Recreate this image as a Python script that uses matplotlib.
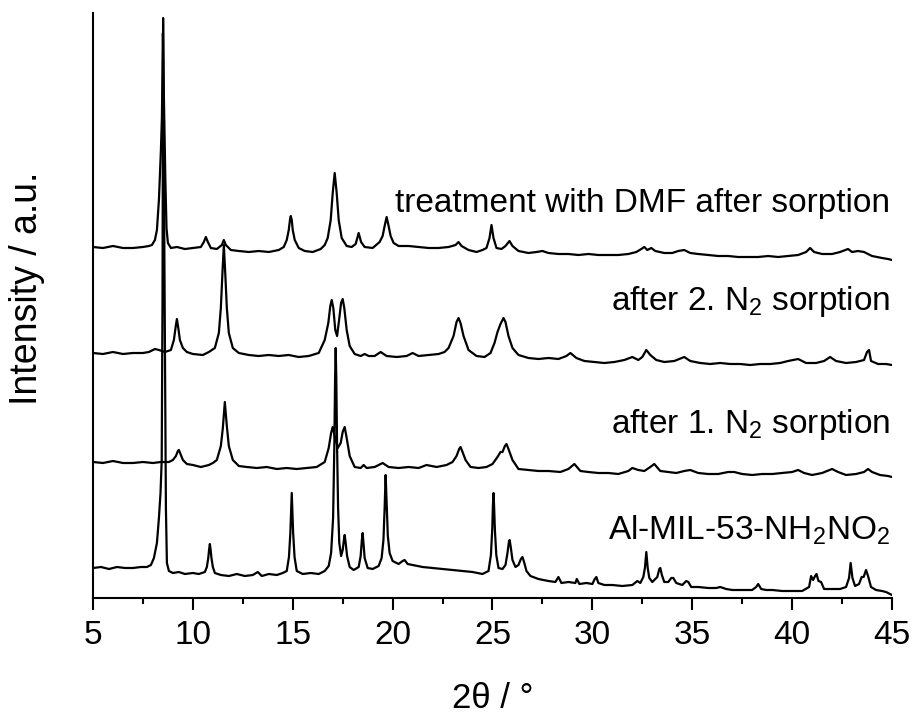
import matplotlib
matplotlib.use('Agg')
import matplotlib.pyplot as plt
from matplotlib.ticker import MultipleLocator

plt.rcParams['font.family'] = ['Liberation Sans', 'DejaVu Sans']
plt.rcParams['mathtext.fontset'] = 'custom'
plt.rcParams['mathtext.rm'] = 'Liberation Sans'
plt.rcParams['mathtext.it'] = 'Liberation Sans'

# stacked powder patterns, intensity in a.u. (offsets already included)

# Al-MIL-53-NH2NO2 (as synthesised)
tt_asyn = [5.0, 5.4, 5.8, 6.2, 6.6, 7.0, 7.4, 7.7, 7.9, 8.05, 8.2, 8.3, 8.38, 8.44, 8.48, 8.51,
           8.55, 8.6, 8.65, 8.7, 8.8, 9.0, 9.3, 9.6, 10.0, 10.3, 10.6, 10.7, 10.77, 10.81,
           10.85, 10.89, 10.93, 11.0, 11.1, 11.4, 11.8, 12.2, 12.6, 13.0, 13.25, 13.45, 13.8,
           14.2, 14.5, 14.7, 14.81, 14.88, 14.92, 14.95, 14.98, 15.02, 15.09, 15.2, 15.5,
           15.9, 16.3, 16.6, 16.8, 16.92, 17.02, 17.08, 17.12, 17.15, 17.18, 17.22, 17.27,
           17.33, 17.42, 17.5, 17.56, 17.6, 17.65, 17.72, 17.85, 18.05, 18.3, 18.4, 18.46,
           18.5, 18.54, 18.6, 18.75, 19.0, 19.3, 19.45, 19.54, 19.6, 19.65, 19.7, 19.76,
           19.85, 20.0, 20.3, 20.5, 20.6, 20.75, 21.0, 21.5, 22.0, 22.5, 23.0, 23.5, 24.0,
           24.5, 24.8, 24.92, 24.99, 25.02, 25.05, 25.08, 25.12, 25.19, 25.3, 25.5, 25.65,
           25.75, 25.82, 25.86, 25.92, 26.0, 26.15, 26.3, 26.42, 26.5, 26.58, 26.7, 26.9,
           27.3, 27.8, 28.15, 28.3, 28.45, 28.8, 29.15, 29.22, 29.35, 29.7, 30.0, 30.12,
           30.2, 30.3, 30.6, 31.0, 31.5, 32.0, 32.25, 32.4, 32.55, 32.63, 32.7, 32.77, 32.85,
           33.0, 33.25, 33.35, 33.4, 33.48, 33.6, 33.8, 33.95, 34.05, 34.2, 34.5, 34.7, 34.8,
           34.95, 35.3, 35.8, 36.2, 36.4, 36.7, 37.0, 37.5, 38.0, 38.2, 38.3, 38.45, 38.7,
           39.0, 39.5, 40.0, 40.5, 40.85, 40.95, 41.05, 41.15, 41.22, 41.32, 41.45, 41.6,
           42.0, 42.4, 42.7, 42.85, 42.93, 43.02, 43.15, 43.35, 43.48, 43.58, 43.7, 43.8,
           43.95, 44.2, 44.5, 44.7, 44.9, 45.0]
int_asyn = [30, 31, 29, 31, 30, 30, 31, 31, 33, 40, 55, 80, 105, 138, 300, 580,
            420, 260, 90, 35, 27, 25, 26, 24, 25, 24, 26, 31, 40, 48,
            54, 48, 40, 31, 25, 23, 22, 24, 22, 23, 26, 22, 24,
            23, 25, 27, 41, 65, 89, 105, 89, 65, 41, 27, 24,
            25, 24, 27, 32, 45, 80, 150, 220, 250, 220, 150, 90,
            55, 42, 48, 58, 63, 55, 42, 31, 28, 31, 42, 58,
            65, 55, 40, 30, 29, 32, 40, 58, 90, 123, 95, 62,
            45, 37, 34, 37, 38, 34, 33, 31, 30, 29, 28, 27, 26,
            24, 27, 43, 70, 92, 105, 92, 68, 43, 30, 29, 33,
            45, 56, 58, 50, 38, 31, 33, 39, 41, 36, 27, 22,
            19, 17, 16, 21, 15, 16, 15, 19, 14, 15, 14, 19,
            21, 15, 13, 13, 12, 13, 17, 15, 21, 30, 46, 30, 20,
            16, 21, 29, 30, 23, 16, 16, 20, 20, 15, 13, 17, 16,
            11, 11, 10, 10, 11, 9, 8, 8, 8, 11, 14, 9, 8,
            8, 7, 7, 7, 11, 22, 18, 22, 24, 17, 16, 9,
            9, 9, 11, 20, 35, 20, 12, 14, 21, 21, 28, 22,
            11, 8, 7, 6, 4, 3]

# after 1. N2 sorption
tt_n2a = [5.0, 5.5, 6.0, 6.5, 7.0, 7.5, 8.0, 8.4, 8.8, 9.0, 9.15, 9.25, 9.3, 9.38, 9.5, 9.7,
          10.0, 10.4, 10.8, 11.0, 11.2, 11.4, 11.5, 11.6, 11.7, 11.8, 12.0, 12.3, 12.7, 13.2,
          13.7, 14.2, 14.7, 15.2, 15.7, 16.2, 16.6, 16.8, 16.92, 17.0, 17.1, 17.25, 17.4,
          17.5, 17.6, 17.7, 17.85, 18.1, 18.4, 18.55, 18.7, 19.1, 19.5, 19.8, 20.3, 20.8,
          21.3, 21.7, 22.2, 22.7, 23.0, 23.2, 23.33, 23.4, 23.5, 23.65, 23.9, 24.3, 24.7,
          25.0, 25.25, 25.4, 25.5, 25.62, 25.7, 25.8, 26.0, 26.3, 26.8, 27.3, 27.8, 28.4,
          28.8, 29.1, 29.4, 29.8, 30.3, 30.8, 31.3, 31.8, 32.0, 32.3, 32.6, 32.9, 33.1, 33.4,
          33.8, 34.2, 34.6, 34.9, 35.3, 35.8, 36.3, 36.8, 37.1, 37.5, 38.0, 38.5, 39.0,
          39.5, 40.0, 40.3, 40.6, 41.0, 41.5, 42.0, 42.3, 42.7, 43.2, 43.6, 43.8, 44.0,
          44.4, 44.8, 45.0]
int_n2a = [136, 135, 137, 135, 135, 136, 135, 136, 136, 138, 142, 147, 148, 144, 138, 134,
           133, 131, 133, 135, 138, 152, 170, 196, 172, 152, 138, 132, 131, 130,
           131, 129, 130, 129, 130, 131, 136, 150, 165, 171, 162, 150, 155,
           166, 171, 160, 142, 131, 130, 133, 130, 131, 135, 131, 130, 131,
           130, 133, 131, 133, 136, 142, 149, 151, 146, 138, 131, 130, 131,
           134, 141, 146, 146, 152, 154, 149, 138, 129, 128, 127, 127, 126,
           129, 134, 127, 126, 125, 125, 124, 127, 130, 128, 127, 131, 134, 127,
           126, 125, 127, 128, 125, 124, 124, 126, 126, 124, 123, 124, 124,
           125, 126, 128, 125, 123, 125, 129, 126, 123, 124, 126, 129, 126,
           123, 122, 121]

# after 2. N2 sorption
tt_n2b = [5.0, 5.5, 6.0, 6.5, 7.0, 7.5, 7.8, 8.1, 8.3, 8.6, 8.9, 9.05, 9.13, 9.2, 9.27, 9.35,
          9.5, 9.7, 10.0, 10.5, 10.8, 11.1, 11.3, 11.4, 11.48, 11.55, 11.62, 11.7, 11.8,
          12.0, 12.3, 12.8, 13.3, 13.8, 14.3, 14.8, 15.3, 15.8, 16.3, 16.6, 16.78, 16.88,
          16.95, 17.03, 17.13, 17.22, 17.32, 17.42, 17.5, 17.58, 17.7, 17.85, 18.1, 18.4,
          18.6, 18.8, 19.1, 19.4, 19.7, 20.2, 20.7, 21.0, 21.3, 21.8, 22.3, 22.6, 22.8,
          23.05, 23.2, 23.3, 23.4, 23.55, 23.8, 24.2, 24.6, 24.9, 25.1, 25.25, 25.4, 25.55,
          25.65, 25.8, 26.0, 26.3, 26.8, 27.3, 27.8, 28.3, 28.7, 28.9, 29.2, 29.6, 30.1,
          30.6, 31.1, 31.6, 32.0, 32.3, 32.5, 32.7, 32.9, 33.2, 33.6, 34.1, 34.6, 34.9,
          35.4, 35.9, 36.4, 36.9, 37.4, 37.9, 38.4, 38.9, 39.4, 39.8, 40.3, 40.7, 41.2,
          41.6, 41.9, 42.2, 42.7, 43.2, 43.6, 43.75, 43.85, 43.95, 44.3, 44.7, 45.0]
int_n2b = [245, 244, 246, 244, 245, 245, 246, 249, 248, 246, 248, 258, 270, 279, 270, 258,
           250, 246, 244, 243, 246, 250, 265, 290, 325, 353, 325, 290, 265,
           250, 245, 243, 242, 243, 242, 243, 241, 242, 245, 258, 275, 292,
           298, 290, 268, 262, 278, 295, 299, 290, 268, 252, 244, 242,
           244, 242, 242, 246, 242, 241, 242, 245, 242, 243, 244, 246, 250,
           262, 276, 280, 275, 262, 248, 242, 241, 245, 255, 266, 274, 280,
           276, 262, 250, 243, 240, 239, 240, 239, 242, 245, 240, 237, 236,
           235, 236, 238, 241, 238, 241, 248, 243, 238, 236, 237, 241, 237,
           235, 234, 235, 234, 234, 233, 234, 234, 235, 237, 239, 235, 235,
           237, 241, 237, 235, 236, 238, 246, 248, 237, 234, 234, 233]

# treatment with DMF after sorption
tt_dmf = [5.0, 5.5, 6.0, 6.5, 7.0, 7.5, 7.8, 7.95, 8.1, 8.2, 8.3, 8.4, 8.45, 8.5, 8.55, 8.62,
          8.68, 8.75, 8.9, 9.2, 9.6, 10.0, 10.4, 10.55, 10.65, 10.75, 10.9, 11.2, 11.45,
          11.55, 11.65, 11.9, 12.3, 12.8, 13.3, 13.8, 14.3, 14.55, 14.7, 14.8, 14.86, 14.9,
          14.95, 15.0, 15.1, 15.3, 15.6, 16.0, 16.4, 16.6, 16.75, 16.9, 17.0, 17.1, 17.2,
          17.3, 17.45, 17.7, 17.95, 18.15, 18.3, 18.42, 18.6, 19.0, 19.35, 19.5, 19.6, 19.7,
          19.8, 19.9, 20.05, 20.3, 20.8, 21.3, 21.8, 22.3, 22.8, 23.15, 23.3, 23.45, 23.8,
          24.2, 24.5, 24.7, 24.85, 24.95, 25.05, 25.2, 25.45, 25.65, 25.85, 26.0, 26.3,
          26.8, 27.2, 27.5, 27.8, 28.3, 28.8, 29.3, 29.8, 30.3, 30.8, 31.3, 31.8, 32.2,
          32.45, 32.6, 32.75, 32.95, 33.15, 33.6, 34.0, 34.3, 34.6, 34.9, 35.3, 35.8, 36.3,
          36.8, 37.3, 37.8, 38.3, 38.8, 39.3, 39.8, 40.3, 40.7, 40.9, 41.1, 41.5, 42.0,
          42.4, 42.8, 43.0, 43.3, 43.6, 44.0, 44.5, 44.8, 45.0]
int_dmf = [351, 350, 352, 350, 350, 351, 352, 353, 358, 368, 398, 448, 481, 565, 500, 420,
           370, 355, 350, 351, 349, 350, 351, 356, 361, 356, 350, 349, 353,
           358, 353, 348, 347, 346, 347, 346, 348, 351, 358, 368, 378, 382,
           378, 368, 358, 350, 347, 346, 349, 353, 360, 378, 405, 425, 405,
           378, 360, 352, 351, 354, 365, 356, 351, 350, 356, 362, 372, 381,
           372, 362, 355, 352, 352, 351, 350, 350, 351, 353, 356, 352, 348,
           346, 348, 350, 360, 373, 360, 350, 349, 352, 357, 352, 347,
           345, 346, 347, 345, 344, 344, 343, 344, 343, 343, 343, 344, 346,
           349, 351, 348, 350, 347, 345, 345, 347, 348, 345, 344, 343, 342,
           342, 341, 341, 341, 342, 341, 342, 343, 346, 350, 346, 344, 344,
           346, 349, 346, 347, 346, 342, 340, 339, 338]

sample_names = ['Al-MIL-53-NH$_2$NO$_2$',
                'after 1. N$_2$ sorption',
                'after 2. N$_2$ sorption',
                'treatment with DMF after sorption']
label_y = [58, 165, 288, 386]

fig = plt.figure(figsize=(9.15, 7.15), dpi=100)
ax = fig.add_axes([93 / 915, 117 / 715, 799 / 915, 585 / 715])

for tt, inten in [(tt_asyn, int_asyn), (tt_n2a, int_n2a), (tt_n2b, int_n2b), (tt_dmf, int_dmf)]:
    ax.plot(tt, inten, color='black', lw=1.6, solid_joinstyle='round')

for name, yl in zip(sample_names, label_y):
    ax.text(44.9, yl, name, ha='right', va='baseline', fontsize=24)

ax.set_xlim(5, 45)
ax.set_ylim(0, 585)
ax.spines['top'].set_visible(False)
ax.spines['right'].set_visible(False)
ax.spines['left'].set_linewidth(1.5)
ax.spines['bottom'].set_linewidth(1.5)
ax.set_yticks([])
ax.xaxis.set_major_locator(MultipleLocator(5))
ax.xaxis.set_minor_locator(MultipleLocator(2.5))
ax.tick_params(axis='x', which='major', direction='out', length=8.5, width=1.5,
               labelsize=24, pad=7)
ax.tick_params(axis='x', which='minor', direction='out', length=4.5, width=1.5)

ax.set_xlabel('2θ / °', fontsize=25)
ax.xaxis.set_label_coords(0.5, -0.143)
ax.set_ylabel('Intensity / a.u.', fontsize=27)
ax.yaxis.set_label_coords(-0.06, 0.53)

plt.savefig('out.png', dpi=100)
